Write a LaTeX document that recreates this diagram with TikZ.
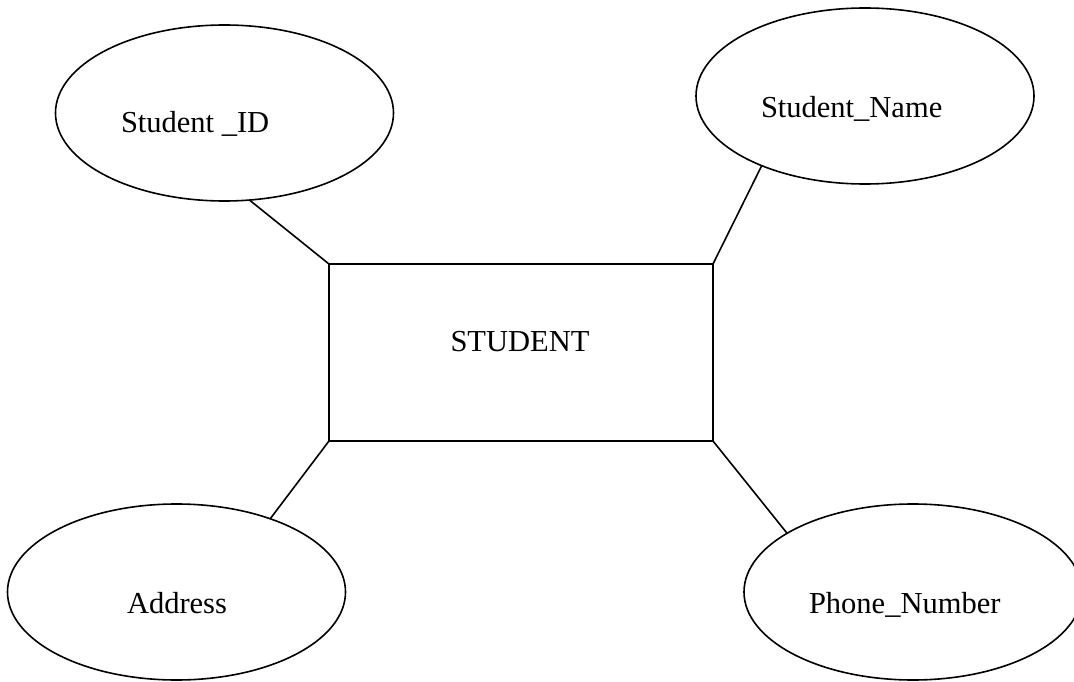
\documentclass[tikz,border=0pt]{standalone}
\usepackage{fontspec}
\setmainfont{Liberation Serif}
\usetikzlibrary{shapes.geometric}
\begin{document}
\begin{tikzpicture}[x=1pt,y=-1pt,
  attr/.style={draw,ellipse,line width=1.6pt,inner sep=0pt,outer sep=0pt,
    minimum width=338pt,minimum height=176pt},
  entity/.style={draw,rectangle,line width=1.6pt,inner sep=0pt,outer sep=0pt,
    minimum width=384pt,minimum height=177pt},
  lbl/.style={font=\fontsize{30.5}{36}\selectfont,inner sep=0pt,outer sep=0pt},
  link/.style={line width=1.6pt}]
\useasboundingbox (0,0) rectangle (1074,682);
% entity
\node[entity] (stu) at (521,352.5) {};
\node[lbl,anchor=base] (stut) at (520,351) {STUDENT};
% attributes
\node[attr] (sid) at (224.5,113) {};
\node[lbl,anchor=base west] (sidt) at (121,133) {Student \_ID};
\node[attr] (sname) at (865,96) {};
\node[lbl,anchor=base west] (snamet) at (761,118) {Student\_Name};
\node[attr] (addr) at (176.5,592) {};
\node[lbl,anchor=base west] (addrt) at (127,613) {Address};
\node[attr] (phone) at (913,592) {};
\node[lbl,anchor=base west] (phonet) at (809,613) {Phone\_Number};
% connectors
\draw[link] (sid.-74.4) -- (stu.north west);
\draw[link] (sname.214.7) -- (stu.north east);
\draw[link] (addr.38.9) -- (stu.south west);
\draw[link] (phone.155.2) -- (stu.south east);
\end{tikzpicture}
\end{document}
